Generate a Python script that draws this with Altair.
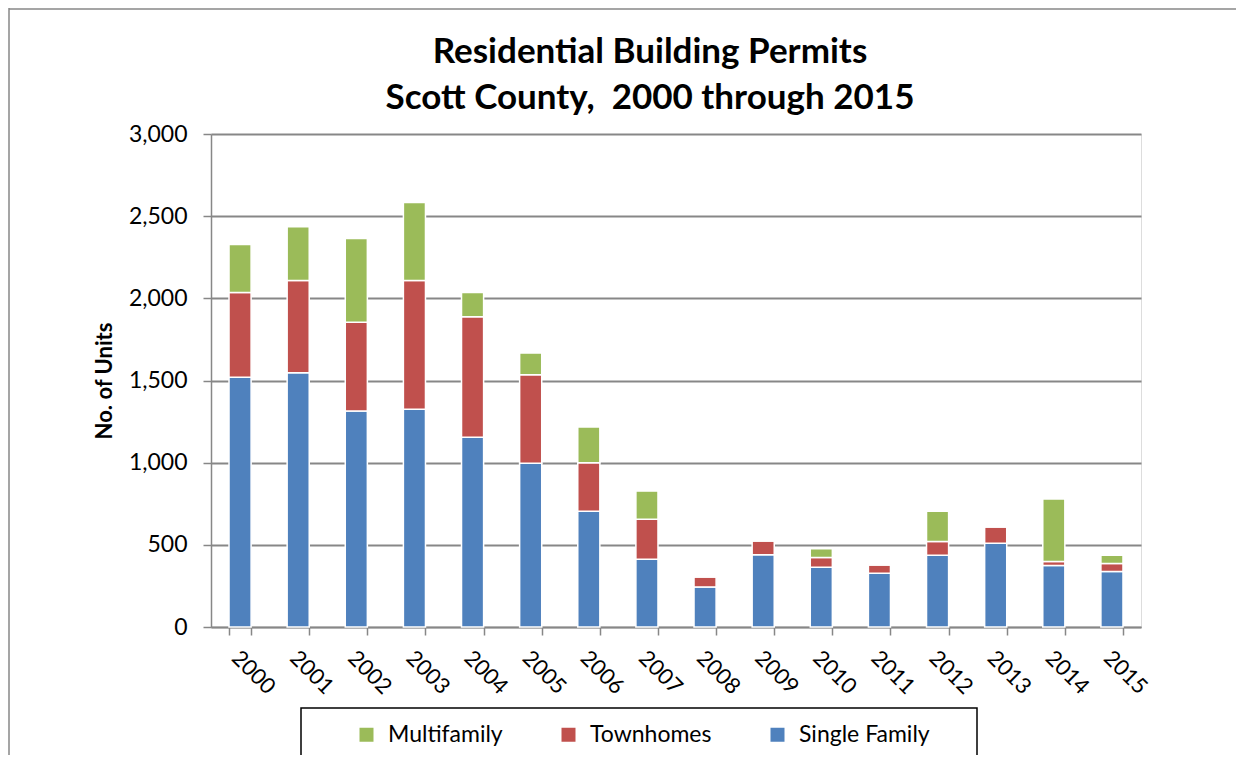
import altair as alt
import pandas as pd

years = [str(y) for y in range(2000, 2016)]
single_family = [1520, 1547, 1315, 1325, 1154, 996, 705, 413, 244, 439, 364, 327, 437, 510, 374, 337]
townhomes = [515, 561, 539, 783, 734, 539, 295, 243, 61, 85, 59, 51, 84, 98, 25, 49]
multifamily = [292, 327, 510, 475, 147, 132, 217, 171, 0, 0, 53, 0, 184, 0, 380, 51]

series_names = ["Multifamily", "Townhomes", "Single Family"]
series_colors = ["#9BBB59", "#C0504D", "#4F81BD"]
stack_order = {"Single Family": 0, "Townhomes": 1, "Multifamily": 2}

title_lines = ["Residential Building Permits", "Scott County,\u00a0 2000 through 2015"]

rows = []
for i, yr in enumerate(years):
    for name, vals in (("Single Family", single_family), ("Townhomes", townhomes), ("Multifamily", multifamily)):
        rows.append({"Year": yr, "Type": name, "Units": vals[i], "ord": stack_order[name]})
df = pd.DataFrame(rows)

FONT = "Lato"
GRAY = "#878787"

bars = alt.Chart(df).mark_bar(stroke="white", strokeWidth=1.5).encode(
    x=alt.X("Year:N", title=None,
            scale=alt.Scale(paddingInner=0.62, paddingOuter=0.31),
            axis=alt.Axis(labelAngle=45, labelFontSize=22, labelFont=FONT, labelColor="black",
                          tickBand="extent", tickSize=8, tickColor=GRAY, tickWidth=1.5,
                          domainColor=GRAY, domainWidth=1.5, labelPadding=12, labelOffset=2,
                          grid=False)),
    y=alt.Y("Units:Q", title="No. of Units",
            scale=alt.Scale(domain=[0, 3000], nice=False),
            axis=alt.Axis(values=[0, 500, 1000, 1500, 2000, 2500, 3000], format=",d",
                          labelFontSize=23, labelFont=FONT, labelColor="black",
                          tickSize=8, tickColor=GRAY, tickWidth=1.5, labelPadding=16,
                          domainColor=GRAY, domainWidth=1.5,
                          grid=True, gridColor=GRAY, gridWidth=2,
                          titleFont=FONT, titleFontSize=22, titleFontWeight="bold",
                          titleColor="black", titlePadding=12)),
    color=alt.Color("Type:N", scale=alt.Scale(domain=series_names, range=series_colors),
                    legend=alt.Legend(orient="none", legendX=144, legendY=589, direction="horizontal",
                                      title=None, labelFont=FONT, labelFontSize=23, labelColor="black",
                                      symbolType="square", symbolSize=196, symbolStrokeWidth=0,
                                      columnPadding=54, labelOffset=10)),
    order=alt.Order("ord:Q", sort="ascending"),
)

one = pd.DataFrame({"a": [0]})

legend_box = alt.Chart(one).mark_rect(
    fill="white", stroke="black", strokeWidth=1.5, clip=False
).encode(x=alt.value(90), x2=alt.value(766), y=alt.value(574), y2=alt.value(680))

frame_left = alt.Chart(one).mark_rule(color=GRAY, strokeWidth=1.5, clip=False).encode(
    x=alt.value(-202), y=alt.value(-126), y2=alt.value(640))
frame_top = alt.Chart(one).mark_rule(color=GRAY, strokeWidth=1.5, clip=False).encode(
    x=alt.value(-202), x2=alt.value(1040), y=alt.value(-125))

title_df = pd.DataFrame({"line": title_lines})
title1 = alt.Chart(title_df.iloc[[0]]).mark_text(
    font=FONT, fontSize=35, fontWeight="bold", color="black", align="center", baseline="alphabetic"
).encode(text="line:N", x=alt.value(439), y=alt.value(-71))
title2 = alt.Chart(title_df.iloc[[1]]).mark_text(
    font=FONT, fontSize=35, fontWeight="bold", color="black", align="center", baseline="alphabetic"
).encode(text="line:N", x=alt.value(439), y=alt.value(-25))

chart = alt.layer(frame_left, frame_top, legend_box, bars, title1, title2).properties(
    width=930, height=493,
    padding={"left": 203, "top": 126, "right": 95, "bottom": 128},
    autosize="none",
).configure_view(fill="#D9D9D9", stroke=None).configure(background="white")

chart.save("out.html", embed_options={"renderer": "svg", "actions": False})
